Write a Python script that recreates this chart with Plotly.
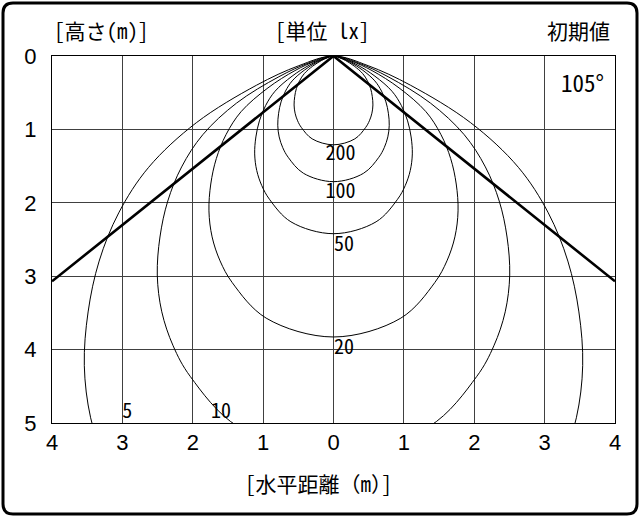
import plotly.graph_objects as go

# isolux curves, half profile (left/right mirrored)
lux_levels = [200, 100, 50, 20, 10, 5]

half_x_200 = [0.078, 0.173, 0.294, 0.415, 0.482, 0.527, 0.551, 0.560, 0.546, 0.510, 0.455, 0.303, 0.0]
depth_200 = [0.021, 0.063, 0.137, 0.240, 0.338, 0.442, 0.551, 0.667, 0.779, 0.883, 0.976, 1.129, 1.210]

half_x_100 = [0.110, 0.245, 0.416, 0.587, 0.682, 0.745, 0.780, 0.792, 0.772, 0.721, 0.644, 0.428, 0.0]
depth_100 = [0.030, 0.089, 0.194, 0.339, 0.478, 0.625, 0.780, 0.944, 1.102, 1.249, 1.380, 1.597, 1.712]

half_x_50 = [0.156, 0.347, 0.589, 0.831, 0.965, 1.053, 1.103, 1.120, 1.091, 1.019, 0.910, 0.605, 0.0]
depth_50 = [0.042, 0.126, 0.275, 0.480, 0.676, 0.884, 1.103, 1.334, 1.559, 1.766, 1.952, 2.259, 2.421]

half_x_20 = [0.246, 0.548, 0.931, 1.313, 1.526, 1.665, 1.744, 1.770, 1.725, 1.612, 1.439, 0.957, 0.0]
depth_20 = [0.066, 0.199, 0.434, 0.758, 1.069, 1.397, 1.744, 2.110, 2.464, 2.791, 3.087, 3.571, 3.828]

half_x_10 = [0.348, 0.775, 1.378, 1.857, 2.158, 2.355, 2.466, 2.504, 2.440, 2.279, 2.036, 1.353, 0.0]
depth_10 = [0.093, 0.282, 0.642, 1.072, 1.511, 1.976, 2.466, 2.984, 3.485, 3.948, 4.365, 5.051, 5.413]

half_x_5 = [0.493, 1.096, 1.949, 2.627, 3.052, 3.330, 3.487, 3.541, 3.451, 3.223, 2.879, 1.914, 0.0]
depth_5 = [0.132, 0.399, 0.909, 1.517, 2.137, 2.794, 3.487, 4.219, 4.929, 5.583, 6.174, 7.143, 7.655]

# beam edge lines (105 deg)
beam_x = [-4, 0, 4]
beam_y = [3.07, 0, 3.07]

# contour value labels
label_text = ["200", "100", "50", "20", "10", "5"]
label_x = [0.10, 0.10, 0.15, 0.15, -1.60, -2.93]
label_y = [1.35, 1.86, 2.59, 3.99, 4.86, 4.86]

x_ticks = [-4, -3, -2, -1, 0, 1, 2, 3, 4]
x_tick_text = ["4", "3", "2", "1", "0", "1", "2", "3", "4"]
y_ticks = [0, 1, 2, 3, 4, 5]

curves = {
    200: (half_x_200, depth_200),
    100: (half_x_100, depth_100),
    50: (half_x_50, depth_50),
    20: (half_x_20, depth_20),
    10: (half_x_10, depth_10),
    5: (half_x_5, depth_5),
}

mono = 'Noto Sans Mono CJK JP, Noto Sans CJK JP'

fig = go.Figure()

for lvl in lux_levels:
    hx, hy = curves[lvl]
    xs = [0] + [-v for v in hx] + hx[::-1][1:] + [0]
    ys = [0] + hy + hy[::-1][1:] + [0]
    fig.add_trace(go.Scatter(x=xs, y=ys, mode='lines',
                             line=dict(color='black', width=1, shape='spline', smoothing=1.0),
                             hoverinfo='skip', showlegend=False))

fig.add_trace(go.Scatter(x=beam_x, y=beam_y, mode='lines',
                         line=dict(color='black', width=2.6),
                         hoverinfo='skip', showlegend=False))

fig.add_trace(go.Scatter(x=label_x, y=label_y, mode='text', text=label_text,
                         textfont=dict(family=mono, size=20, color='black'),
                         hoverinfo='skip', showlegend=False))

W, H = 641, 518
ml, mr, mt, mb = 52, 26, 56, 95
pw = W - ml - mr
ph = H - mt - mb


def px(v):
    return (v - ml) / pw


def py(v):
    return (H - mb - v) / ph


# rounded outer frame
x0, x1, y0, y1, r = 3, 637, 3, 514, 10
frame = (f"M {px(x0 + r)},{py(y0)} L {px(x1 - r)},{py(y0)} "
         f"Q {px(x1)},{py(y0)} {px(x1)},{py(y0 + r)} "
         f"L {px(x1)},{py(y1 - r)} Q {px(x1)},{py(y1)} {px(x1 - r)},{py(y1)} "
         f"L {px(x0 + r)},{py(y1)} Q {px(x0)},{py(y1)} {px(x0)},{py(y1 - r)} "
         f"L {px(x0)},{py(y0 + r)} Q {px(x0)},{py(y0)} {px(x0 + r)},{py(y0)} Z")

fig.update_layout(
    width=W, height=H,
    margin=dict(l=ml, r=mr, t=mt, b=mb),
    paper_bgcolor='white', plot_bgcolor='white',
    shapes=[dict(type='path', xref='paper', yref='paper', path=frame,
                 line=dict(color='black', width=3))],
    annotations=[
        dict(text='[高さ(m)]', xref='paper', yref='paper', x=px(52), y=py(30),
             xanchor='left', yanchor='middle', showarrow=False, font=dict(family=mono, size=21, color='black')),
        dict(text='[単位 lx]', xref='paper', yref='paper', x=px(273), y=py(30),
             xanchor='left', yanchor='middle', showarrow=False, font=dict(family=mono, size=21, color='black')),
        dict(text='初期値', xref='paper', yref='paper', x=px(612), y=py(30),
             xanchor='right', yanchor='middle', showarrow=False, font=dict(family=mono, size=21, color='black')),
        dict(text='[水平距離（m）]', xref='paper', yref='paper', x=px(243), y=py(483),
             xanchor='left', yanchor='middle', showarrow=False, font=dict(family=mono, size=21, color='black')),
        dict(text='105°', xref='x', yref='y', x=3.54, y=0.35,
             xanchor='center', yanchor='middle', showarrow=False,
             font=dict(family=mono, size=23, color='black')),
    ],
    xaxis=dict(range=[-4, 4], tickvals=x_ticks, ticktext=x_tick_text,
               showgrid=True, gridcolor='#404040', gridwidth=1, zeroline=False,
               showline=True, linecolor='black', linewidth=1, mirror=True,
               ticks='', tickfont=dict(family='Liberation Sans, Arial', size=22, color='black')),
    yaxis=dict(range=[5, 0], tickvals=y_ticks,
               showgrid=True, gridcolor='#404040', gridwidth=1, zeroline=False,
               showline=True, linecolor='black', linewidth=1, mirror=True,
               ticks='outside', ticklen=10, tickcolor='rgba(0,0,0,0)',
               tickfont=dict(family='Liberation Sans, Arial', size=22, color='black')),
)

fig.write_html("out.html", config={'displayModeBar': False},
               post_script="document.body.style.margin='0';")
